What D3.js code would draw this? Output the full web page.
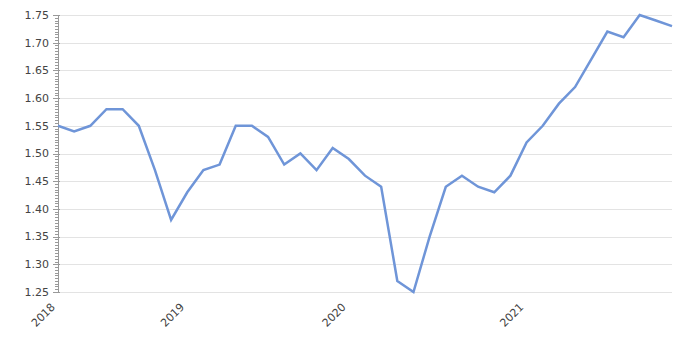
<!DOCTYPE html>
<html>
<head>
<meta charset="utf-8">
<title>Line chart</title>
<style>
  body { margin: 0; background: #fff; }
  .grid line { stroke: #e3e3e3; stroke-width: 1px; }
  .line { fill: none; stroke: #6f95d8; stroke-width: 2.5px; stroke-linejoin: miter; }
  text { font-family: "DejaVu Sans", sans-serif; font-size: 11px; fill: #444; }
</style>
<script src="https://d3js.org/d3.v7.min.js"></script>
</head>
<body>
<div id="chart"></div>
<script>
// values, one per period
var values = [1.55, 1.54, 1.55, 1.58, 1.58, 1.55, 1.47, 1.38, 1.43, 1.47,
              1.48, 1.55, 1.55, 1.53, 1.48, 1.50, 1.47, 1.51, 1.49, 1.46,
              1.44, 1.27, 1.25, 1.35, 1.44, 1.46, 1.44, 1.43, 1.46, 1.52,
              1.55, 1.59, 1.62, 1.67, 1.72, 1.71, 1.75, 1.74, 1.73];
var periods = values.map(function(d, i) { return i; });

// year labels and the period where each one sits
var yearLabels = ["2018", "2019", "2020", "2021"];
var yearAt = [0, 8, 18, 29];

var yTicks = [1.25, 1.30, 1.35, 1.40, 1.45, 1.50, 1.55, 1.60, 1.65, 1.70, 1.75];

var margin = {top: 15, right: 28, bottom: 48, left: 58};
var width = 700 - margin.left - margin.right;
var height = 340 - margin.top - margin.bottom;

var x = d3.scalePoint().domain(periods).range([0, width]);
var y = d3.scaleLinear().domain([1.25, 1.75]).range([height, 0]);

var svg = d3.select("#chart")
  .append("svg")
  .attr("width", 700)
  .attr("height", 340)
  .append("g")
  .attr("transform", "translate(" + margin.left + "," + margin.top + ")");

// horizontal grid
svg.append("g")
  .attr("class", "grid")
  .selectAll("line")
  .data(yTicks)
  .enter()
  .append("line")
  .attr("x1", 0)
  .attr("x2", width)
  .attr("y1", function(d) { return Math.round(y(d)) + 0.5; })
  .attr("y2", function(d) { return Math.round(y(d)) + 0.5; });

// y axis with minor ticks
var minor = d3.range(0, 101).map(function(i) { return 1.25 + i * 0.005; });
var yAxis = svg.append("g");
yAxis.append("line")
  .attr("x1", 0.5).attr("x2", 0.5)
  .attr("y1", 0).attr("y2", height)
  .attr("stroke", "#999");
yAxis.selectAll(".minor")
  .data(minor)
  .enter()
  .append("line")
  .attr("class", "minor")
  .attr("x1", -3).attr("x2", 0)
  .attr("y1", function(d) { return Math.round(y(d)) + 0.5; })
  .attr("y2", function(d) { return Math.round(y(d)) + 0.5; })
  .attr("stroke", "#999");
yAxis.selectAll(".major")
  .data(yTicks)
  .enter()
  .append("line")
  .attr("class", "major")
  .attr("x1", -5).attr("x2", 2)
  .attr("y1", function(d) { return Math.round(y(d)) + 0.5; })
  .attr("y2", function(d) { return Math.round(y(d)) + 0.5; })
  .attr("stroke", "#999");
yAxis.selectAll("text")
  .data(yTicks)
  .enter()
  .append("text")
  .attr("x", -9)
  .attr("y", function(d) { return y(d); })
  .attr("dy", "0.35em")
  .attr("text-anchor", "end")
  .text(function(d) { return d3.format(".2f")(d); });

// x labels, rotated
svg.append("g")
  .selectAll("text")
  .data(yearLabels)
  .enter()
  .append("text")
  .attr("text-anchor", "end")
  .attr("transform", function(d, i) {
    return "translate(" + (x(yearAt[i]) - 5) + "," + (height + 13) + ") rotate(-45)";
  })
  .attr("dy", "0.35em")
  .text(function(d) { return d; });

// the line
var line = d3.line()
  .x(function(d, i) { return x(periods[i]); })
  .y(function(d) { return y(d); });

svg.append("path")
  .datum(values)
  .attr("class", "line")
  .attr("d", line);
</script>
</body>
</html>
